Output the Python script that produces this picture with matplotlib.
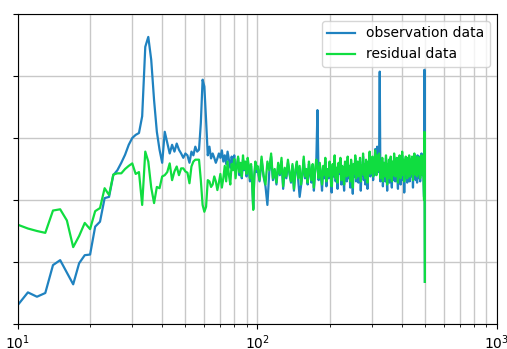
import numpy as np
import matplotlib
matplotlib.use('Agg')
import matplotlib.pyplot as plt

# 频率轴: 10-99 Hz 每 1 Hz, 100-500 Hz 每 2 Hz
freq_lo = np.arange(10, 100)
freq_hi = np.arange(100, 501, 2)
freq = np.concatenate([freq_lo, freq_hi])

# observation data (10-99 Hz)
obs_lo = [
    -0.69, -0.49, -0.56, -0.50, -0.05, 0.03, -0.17, -0.36, -0.02, 0.11,
    0.12, 0.57, 0.65, 1.03, 1.05, 1.40, 1.48, 1.60, 1.73, 1.89,
    2.00, 2.05, 2.08, 2.35, 3.47, 3.63, 3.26, 2.61, 2.10, 1.81,
    1.60, 2.10, 1.92, 1.75, 1.89, 1.78, 1.91, 1.81, 1.75, 1.68,
    1.75, 1.72, 1.60, 1.78, 1.72, 1.86, 1.78, 1.81, 2.24, 2.94,
    2.83, 2.29, 1.72, 1.86, 1.67, 1.75, 1.68, 1.60, 1.67, 1.75,
    1.68, 1.80, 1.62, 1.72, 1.58, 1.78, 1.65, 1.52, 1.70, 1.60,
    1.72, 1.45, 1.55, 1.68, 1.40, 1.58, 1.35, 1.65, 1.48, 1.60,
    1.38, 1.62, 1.50, 1.30, 1.55, 1.28, 0.86, 1.38, 1.58, 1.45,
]
# observation data (100-500 Hz)
obs_hi = [
    1.52, 1.30, 1.65, 1.38, 1.22, 0.92, 1.45, 1.70, 1.32, 1.48,
    1.25, 1.55, 1.40, 1.62, 1.18, 1.50, 1.35, 1.60, 1.42, 1.28,
    1.55, 1.15, 1.45, 1.58, 1.32, 1.05, 1.22, 1.40, 1.65, 1.35,
    1.48, 1.25, 1.58, 1.42, 1.28, 1.55, 1.15, 1.45, 1.60, 2.45,
    1.32, 1.55, 1.40, 1.15, 1.50, 1.35, 1.62, 1.22, 1.45, 1.35,
    1.58, 1.40, 1.12, 1.52, 1.38, 1.65, 1.30, 1.48, 1.18, 1.55,
    1.42, 1.62, 1.25, 1.50, 1.38, 1.15, 1.58, 1.45, 1.30, 1.65,
    1.35, 1.50, 1.20, 1.60, 1.42, 1.10, 1.52, 1.38, 1.68, 1.30,
    1.48, 1.58, 1.28, 1.42, 1.62, 1.15, 1.50, 1.40, 1.70, 1.32,
    1.52, 1.25, 1.60, 1.45, 1.18, 1.58, 1.42, 1.72, 1.38, 1.55,
    1.48, 1.68, 1.32, 1.62, 1.40, 1.82, 1.58, 1.75, 1.86, 1.62,
    1.45, 1.70, 3.07, 1.30, 1.58, 1.38, 1.62, 1.22, 1.50, 1.40,
    1.55, 1.30, 1.68, 1.42, 1.15, 1.52, 1.38, 1.60, 1.28, 1.48,
    1.65, 1.40, 1.20, 1.58, 1.45, 1.32, 1.70, 1.50, 1.30, 1.55,
    1.42, 1.62, 1.35, 1.18, 1.52, 1.45, 1.68, 1.40, 1.25, 1.58,
    1.45, 1.72, 1.32, 1.50, 1.60, 1.12, 1.52, 1.42, 1.65, 1.35,
    1.55, 1.28, 1.62, 1.48, 1.38, 1.68, 1.30, 1.52, 1.45, 1.60,
    1.38, 1.65, 1.50, 1.20, 1.58, 1.42, 1.70, 1.40, 1.52, 1.32,
    1.60, 1.48, 1.28, 1.72, 1.45, 1.58, 1.35, 1.70, 1.52, 1.30,
    1.58, 1.45, 1.75, 1.40, 1.52, 1.70, 1.62, 1.25, 1.05, 3.10,
    -0.32,
]

# residual data (10-99 Hz)
res_lo = [
    0.60, 0.54, 0.50, 0.47, 0.83, 0.85, 0.67, 0.24, 0.42, 0.63,
    0.53, 0.82, 0.87, 1.19, 1.08, 1.41, 1.43, 1.43, 1.50, 1.55,
    1.59, 1.42, 1.45, 0.92, 1.78, 1.62, 1.20, 0.95, 1.21, 1.19,
    1.38, 1.40, 1.45, 1.59, 1.32, 1.46, 1.54, 1.40, 1.51, 1.51,
    1.46, 1.44, 1.27, 1.54, 1.62, 1.65, 1.65, 1.65, 1.32, 0.92,
    0.81, 0.89, 1.32, 1.30, 1.21, 1.25, 1.38, 1.30, 1.16, 1.28,
    1.42, 1.20, 1.35, 1.55, 1.30, 1.62, 1.40, 1.25, 1.58, 1.48,
    1.66, 1.35, 1.52, 1.70, 1.45, 1.60, 1.38, 1.72, 1.50, 1.62,
    1.42, 1.68, 1.55, 1.35, 1.58, 1.30, 0.84, 1.40, 1.62, 1.50,
]
# residual data (100-500 Hz)
res_hi = [
    1.55, 1.32, 1.70, 1.40, 1.25, 1.62, 1.48, 1.75, 1.35, 1.50,
    1.28, 1.60, 1.42, 1.68, 1.22, 1.52, 1.38, 1.65, 1.45, 1.30,
    1.58, 1.18, 1.48, 1.62, 1.35, 1.55, 1.25, 1.42, 1.70, 1.38,
    1.50, 1.28, 1.62, 1.45, 1.32, 1.58, 1.20, 1.48, 1.65, 1.52,
    1.35, 1.60, 1.42, 1.25, 1.55, 1.40, 1.68, 1.30, 1.50, 1.38,
    1.62, 1.45, 1.22, 1.58, 1.40, 1.72, 1.35, 1.52, 1.28, 1.60,
    1.45, 1.68, 1.32, 1.55, 1.42, 1.25, 1.62, 1.48, 1.38, 1.70,
    1.40, 1.55, 1.30, 1.65, 1.45, 1.20, 1.58, 1.42, 1.72, 1.35,
    1.52, 1.62, 1.38, 1.48, 1.68, 1.30, 1.55, 1.45, 1.75, 1.40,
    1.58, 1.35, 1.65, 1.50, 1.28, 1.62, 1.48, 1.78, 1.42, 1.60,
    1.52, 1.70, 1.38, 1.65, 1.45, 1.80, 1.55, 1.40, 1.72, 1.58,
    1.48, 1.75, 1.50, 1.35, 1.62, 1.42, 1.68, 1.30, 1.55, 1.45,
    1.60, 1.38, 1.72, 1.48, 1.25, 1.58, 1.42, 1.65, 1.35, 1.52,
    1.70, 1.45, 1.30, 1.62, 1.50, 1.40, 1.75, 1.55, 1.38, 1.60,
    1.48, 1.68, 1.42, 1.28, 1.58, 1.52, 1.72, 1.45, 1.35, 1.62,
    1.50, 1.78, 1.40, 1.55, 1.65, 1.30, 1.58, 1.48, 1.70, 1.42,
    1.60, 1.35, 1.68, 1.52, 1.45, 1.72, 1.38, 1.58, 1.50, 1.65,
    1.42, 1.70, 1.55, 1.32, 1.62, 1.48, 1.75, 1.45, 1.58, 1.40,
    1.65, 1.52, 1.38, 1.70, 1.48, 1.60, 1.42, 1.68, 1.55, 1.35,
    1.62, 1.50, 1.72, 1.45, 1.58, 1.40, 1.65, 1.30, 1.00, 2.10,
    -0.32,
]

observation = np.array(obs_lo + obs_hi)
residual = np.array(res_lo + res_hi)

fig = plt.figure(figsize=(5.07, 3.49), dpi=100)
ax = fig.add_axes([0.0355, 0.0716, 0.9447, 0.8884])

ax.plot(freq, observation, color='#1f82c0', linewidth=1.6, label='observation data')
ax.plot(freq, residual, color='#10dd40', linewidth=1.6, label='residual data')

ax.set_xscale('log')
ax.set_xlim(10, 1000)
ax.set_ylim(-1, 4)
ax.set_yticks([-1, 0, 1, 2, 3, 4])
ax.set_yticklabels([])
ax.tick_params(axis='both', labelsize=10)

ax.grid(True, which='major', color='#c8c8c8', linewidth=1)
ax.grid(True, which='minor', axis='x', color='#c8c8c8', linewidth=1)

ax.legend(loc='upper right', fontsize=10, framealpha=0.8)

plt.savefig('out.png', dpi=100)
plt.close()
